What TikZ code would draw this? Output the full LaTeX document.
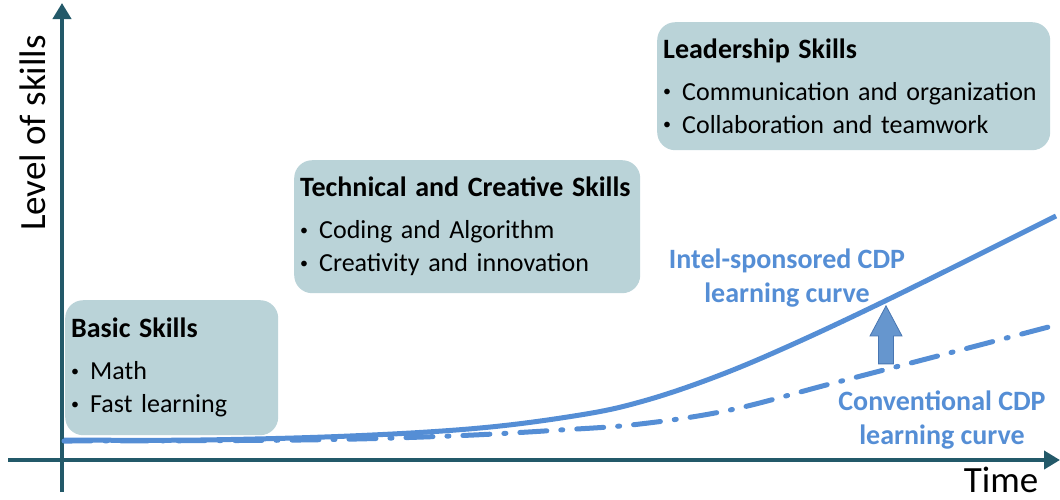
\documentclass[tikz,border=0pt]{standalone}
\usepackage{fontspec}
\setmainfont{Carlito}
\usetikzlibrary{arrows.meta,shapes.arrows,positioning}

\definecolor{boxfill}{RGB}{186,211,216}
\definecolor{axisteal}{RGB}{35,89,105}
\definecolor{curveblue}{RGB}{85,142,213}
\definecolor{arrowblue}{RGB}{102,150,206}
\definecolor{arrowedge}{RGB}{72,118,178}

\newcommand{\skillhead}[1]{{\bfseries\fontsize{28}{33}\selectfont #1}\\[9pt]}
\newcommand{\skillitem}{\makebox[19pt][l]{\raisebox{0.14em}{\fontsize{16}{16}\selectfont\textbullet}}}

\tikzset{
  skillbox/.style={fill=boxfill, rounded corners=18pt, anchor=north west, align=left,
    inner xsep=6pt, font=\fontsize{26}{33}\selectfont},
  curvelabel/.style={text=curveblue, align=center, font=\bfseries\fontsize{28}{34}\selectfont},
  axisline/.style={draw=axisteal, line width=4pt, -{Triangle[length=16pt,width=18pt]}},
  curveline/.style={draw=curveblue, line width=5pt}
}

\begin{document}
\begin{tikzpicture}[x=1pt, y=-1pt]
    \useasboundingbox (0,0) rectangle (1060,499);

    % skill boxes
    \node[skillbox, text width=201pt, minimum height=135pt] (basic) at (65,300)
        {\skillhead{Basic Skills}\skillitem Math\\ \skillitem Fast learning};
    \node[skillbox, text width=334pt, minimum height=133pt] (technical) at (294,160)
        {\skillhead{Technical and Creative Skills}\skillitem Coding and Algorithm\\ \skillitem Creativity and innovation};
    \node[skillbox, text width=381pt, minimum height=128pt] (leadership) at (657,22)
        {\skillhead{Leadership Skills}\skillitem Communication and organization\\ \skillitem Collaboration and teamwork};

    % axes
    \coordinate (yfoot) at (62,492);
    \coordinate (ytop) at (62,3);
    \coordinate (xfoot) at (8,460);
    \coordinate (xend) at (1060,460);
    \draw[axisline] (yfoot) -- (ytop);
    \draw[axisline] (xfoot) -- (xend);

    \node[rotate=90, anchor=base, font=\fontsize{37}{40}\selectfont] (ylabel) at (45,133) {Level of skills};
    \node[anchor=base, inner sep=1pt, font=\fontsize{37}{40}\selectfont] (xlabel) at (1001,492) {Time};

    % learning curves
    \draw[curveline, line cap=round, dash pattern=on 27pt off 14pt on 2pt off 14pt]
        plot[smooth, tension=0.6] coordinates {(64,441) (300,440) (450,436) (560,430) (640,424)
        (730,410) (830,384) (953,352) (1056,325)};
    \draw[curveline]
        plot[smooth, tension=0.6] coordinates {(64,440) (200,440) (350,436) (480,428) (580,415)
        (640,402) (707,380) (780,350) (887,300) (1056,216)};

    \node[single arrow, fill=arrowblue, draw=arrowedge, line width=0.8pt, rotate=90,
        minimum height=58pt, minimum width=32pt, inner sep=7pt,
        single arrow head extend=8.5pt, single arrow tip angle=56, anchor=tip] (lift) at (886,305) {};

    \node[curvelabel] (newcurve) at (787,278) {Intel-sponsored CDP\\learning curve};
    \node[curvelabel] (oldcurve) at (942,420) {Conventional CDP\\learning curve};
\end{tikzpicture}
\end{document}
